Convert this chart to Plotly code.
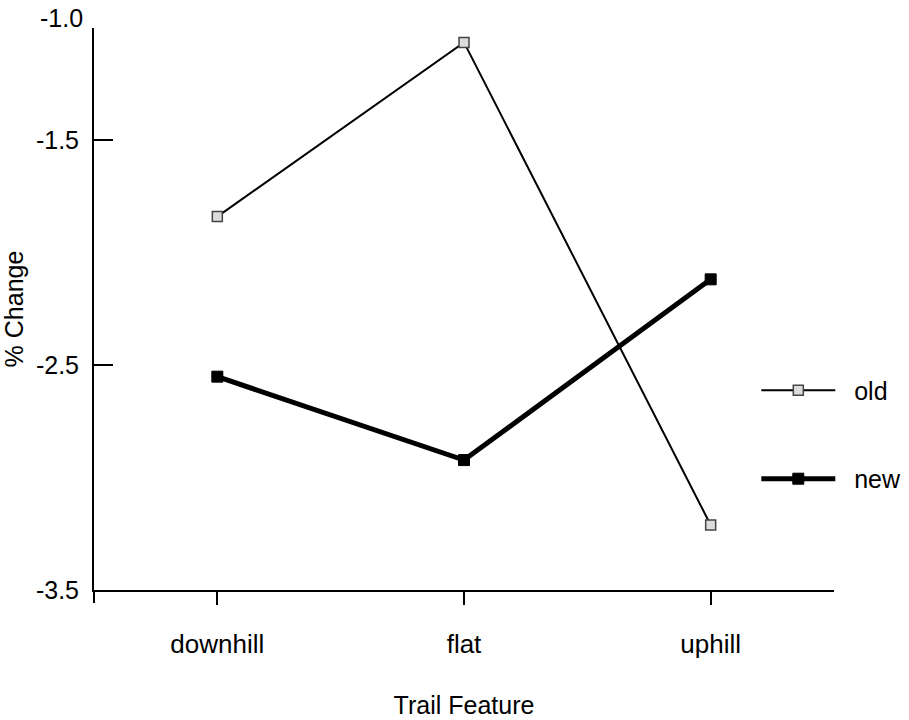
import plotly.graph_objects as go

categories = ["downhill", "flat", "uphill"]
old_values = [-1.839, -1.064, -3.211]
new_values = [-2.551, -2.922, -2.118]
y_tickvals = [-1.5, -2.5, -3.5]
y_ticktext = ["-1.5", "-2.5", "-3.5"]
y_top_value = -1.0
top_tick_label = "-1.0"

FONT = "Liberation Sans, Arial, sans-serif"
NB = "\u00a0\u00a0"

fig = go.Figure()
fig.add_trace(go.Scatter(
    x=categories, y=old_values, name=NB + "old", mode="lines+markers",
    line=dict(color="black", width=2),
    marker=dict(symbol="square", size=10, color="#dcdcdc", line=dict(color="#444444", width=1.5)),
    legendgroup="old",
))
fig.add_trace(go.Scatter(
    x=categories, y=new_values, name=NB + "new", mode="lines+markers",
    line=dict(color="black", width=5),
    marker=dict(symbol="square", size=11, color="black", line=dict(color="black", width=1)),
    legendgroup="new",
))

fig.update_layout(
    width=909, height=720,
    margin=dict(l=94, r=75, t=28, b=130, autoexpand=False),
    plot_bgcolor="white", paper_bgcolor="white",
    font=dict(family=FONT, size=25, color="black"),
    showlegend=True,
    legend=dict(x=0.895, y=0.396, xanchor="left", yanchor="top",
                font=dict(size=25), itemwidth=74, tracegroupgap=53,
                bgcolor="rgba(0,0,0,0)"),
    xaxis=dict(
        type="category", range=[-0.5, 2.5], automargin=False,
        showline=True, linecolor="black", linewidth=2,
        ticks="outside", ticklen=13, tickwidth=2, tickcolor="black",
        showgrid=False, zeroline=False,
        tickfont=dict(size=26), ticklabelstandoff=17,
        title=dict(text="Trail Feature", font=dict(size=25), standoff=38),
    ),
    yaxis=dict(
        range=[-3.5, y_top_value], automargin=False,
        tickvals=y_tickvals, ticktext=y_ticktext,
        showline=True, linecolor="black", linewidth=2,
        ticks="inside", ticklen=19, tickwidth=2, tickcolor="black",
        showgrid=False, zeroline=False,
        tickfont=dict(size=25), ticklabelstandoff=8,
        title=dict(text="% Change", font=dict(size=25), standoff=6),
    ),
)

# top axis label sits slightly above the axis end (no tick mark there)
fig.add_annotation(text=top_tick_label, xref="paper", x=0, xanchor="right",
                   yref="y", y=y_top_value, yanchor="middle",
                   xshift=-9, yshift=10, showarrow=False,
                   font=dict(size=25, family=FONT, color="black"))

# y-axis extends below the x-axis line like a tick
fig.add_shape(type="line", xref="paper", yref="paper",
              x0=0, x1=0, y0=0, y1=-0.023,
              line=dict(color="black", width=2))

fig.write_html("out.html", config={"displayModeBar": False},
               post_script="document.body.style.margin='0';")
